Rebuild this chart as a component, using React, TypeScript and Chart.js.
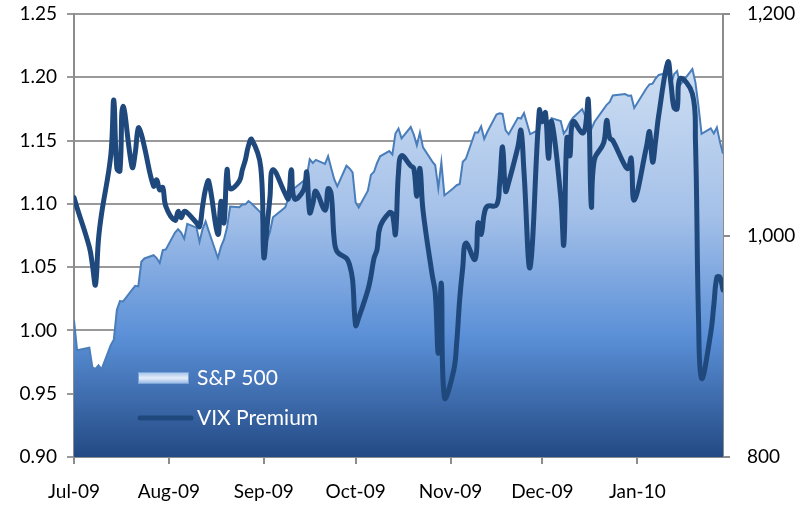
import React, { useEffect, useRef } from 'react';
import { Chart, registerables } from 'chart.js';

Chart.register(...registerables);

// ---------- data ----------
const tradingDates: string[] = [
  // Jul 2009
  '2009-07-01','2009-07-02','2009-07-06','2009-07-07','2009-07-08','2009-07-09','2009-07-10','2009-07-13','2009-07-14','2009-07-15','2009-07-16','2009-07-17','2009-07-20','2009-07-21','2009-07-22','2009-07-23','2009-07-24','2009-07-27','2009-07-28','2009-07-29','2009-07-30','2009-07-31',
  // Aug 2009
  '2009-08-03','2009-08-04','2009-08-05','2009-08-06','2009-08-07','2009-08-10','2009-08-11','2009-08-12','2009-08-13','2009-08-14','2009-08-17','2009-08-18','2009-08-19','2009-08-20','2009-08-21','2009-08-24','2009-08-25','2009-08-26','2009-08-27','2009-08-28','2009-08-31',
  // Sep 2009
  '2009-09-01','2009-09-02','2009-09-03','2009-09-04','2009-09-08','2009-09-09','2009-09-10','2009-09-11','2009-09-14','2009-09-15','2009-09-16','2009-09-17','2009-09-18','2009-09-21','2009-09-22','2009-09-23','2009-09-24','2009-09-25','2009-09-28','2009-09-29','2009-09-30',
  // Oct 2009
  '2009-10-01','2009-10-02','2009-10-05','2009-10-06','2009-10-07','2009-10-08','2009-10-09','2009-10-12','2009-10-13','2009-10-14','2009-10-15','2009-10-16','2009-10-19','2009-10-20','2009-10-21','2009-10-22','2009-10-23','2009-10-26','2009-10-27','2009-10-28','2009-10-29','2009-10-30',
  // Nov 2009
  '2009-11-02','2009-11-03','2009-11-04','2009-11-05','2009-11-06','2009-11-09','2009-11-10','2009-11-11','2009-11-12','2009-11-13','2009-11-16','2009-11-17','2009-11-18','2009-11-19','2009-11-20','2009-11-23','2009-11-24','2009-11-25','2009-11-27','2009-11-30',
  // Dec 2009
  '2009-12-01','2009-12-02','2009-12-03','2009-12-04','2009-12-07','2009-12-08','2009-12-09','2009-12-10','2009-12-11','2009-12-14','2009-12-15','2009-12-16','2009-12-17','2009-12-18','2009-12-21','2009-12-22','2009-12-23','2009-12-24','2009-12-28','2009-12-29','2009-12-30','2009-12-31',
  // Jan 2010
  '2010-01-04','2010-01-05','2010-01-06','2010-01-07','2010-01-08','2010-01-11','2010-01-12','2010-01-13','2010-01-14','2010-01-15','2010-01-19','2010-01-20','2010-01-21','2010-01-22','2010-01-25','2010-01-26','2010-01-27','2010-01-28','2010-01-29',
];

const sp500: number[] = [
  923.33, 896.42, 898.72, 881.03, 879.56, 882.68, 879.13, 901.05, 905.84, 932.68, 940.74, 940.38, 951.13, 954.58, 954.07, 976.29, 979.26, 982.18, 979.62, 975.15, 986.75, 987.48,
  1002.63, 1005.65, 1002.72, 997.08, 1010.48, 1007.10, 994.35, 1005.81, 1012.73, 1004.09, 979.73, 989.67, 996.46, 1007.37, 1026.13, 1025.57, 1028.00, 1028.12, 1030.98, 1028.93, 1020.62,
  998.04, 994.75, 1003.24, 1016.40, 1025.39, 1033.37, 1044.14, 1042.73, 1049.34, 1052.63, 1068.76, 1065.49, 1068.30, 1064.66, 1071.66, 1060.87, 1050.78, 1044.38, 1062.98, 1060.61, 1057.08,
  1029.85, 1025.21, 1040.46, 1054.72, 1057.58, 1065.48, 1071.49, 1076.19, 1073.19, 1092.02, 1096.56, 1087.68, 1097.91, 1091.06, 1081.40, 1092.91, 1079.60, 1066.95, 1063.41, 1042.63, 1066.11, 1036.19,
  1042.88, 1045.41, 1046.50, 1066.63, 1069.30, 1093.08, 1093.01, 1098.51, 1087.24, 1093.48, 1109.30, 1110.32, 1109.80, 1094.90, 1091.38, 1106.24, 1105.65, 1110.63, 1091.49, 1095.63,
  1108.86, 1109.24, 1099.92, 1105.98, 1103.25, 1091.94, 1095.95, 1102.35, 1106.41, 1114.11, 1107.93, 1109.18, 1096.08, 1102.47, 1114.05, 1118.02, 1120.59, 1126.48, 1127.78, 1126.20, 1126.42, 1115.10,
  1132.99, 1136.52, 1137.14, 1141.69, 1144.98, 1146.98, 1136.22, 1145.68, 1148.46, 1136.03, 1150.23, 1138.04, 1116.48, 1091.76, 1096.78, 1092.17, 1097.50, 1084.53, 1073.87,
];

const vixPremium: number[] = [
  1.105, 1.097, 1.066, 1.052, 1.036, 1.072, 1.092, 1.138, 1.182, 1.128, 1.126, 1.177, 1.129, 1.140, 1.160, 1.155, 1.145, 1.114, 1.119, 1.111, 1.113, 1.098,
  1.087, 1.094, 1.089, 1.094, 1.093, 1.085, 1.082, 1.098, 1.112, 1.118, 1.076, 1.102, 1.085, 1.127, 1.112, 1.118, 1.127, 1.135, 1.146, 1.151, 1.129,
  1.058, 1.080, 1.105, 1.127, 1.108, 1.104, 1.127, 1.104, 1.111, 1.125, 1.093, 1.100, 1.110, 1.095, 1.112, 1.108, 1.072, 1.062, 1.057, 1.052, 1.040,
  1.004, 1.010, 1.032, 1.043, 1.057, 1.064, 1.082, 1.093, 1.092, 1.076, 1.125, 1.138, 1.130, 1.128, 1.106, 1.128, 1.095, 1.044, 1.030, 0.982, 1.037, 0.947,
  0.968, 0.990, 1.025, 1.050, 1.069, 1.056, 1.085, 1.076, 1.092, 1.098, 1.099, 1.115, 1.145, 1.110, 1.117, 1.145, 1.158, 1.125, 1.050, 1.174,
  1.165, 1.172, 1.136, 1.165, 1.105, 1.068, 1.152, 1.138, 1.165, 1.156, 1.160, 1.182, 1.098, 1.135, 1.148, 1.166, 1.152, 1.150, 1.130, 1.128, 1.136, 1.103,
  1.145, 1.157, 1.133, 1.150, 1.170, 1.212, 1.195, 1.176, 1.175, 1.199, 1.187, 1.150, 1.010, 0.962, 0.998, 1.020, 1.042, 1.042, 1.032,
];

const monthTickDates: string[] = ['2009-07-01', '2009-08-01', '2009-09-01', '2009-10-01', '2009-11-01', '2009-12-01', '2010-01-01'];
const monthTickLabels: string[] = ['Jul-09', 'Aug-09', 'Sep-09', 'Oct-09', 'Nov-09', 'Dec-09', 'Jan-10'];
const leftTicks: number[] = [0.9, 0.95, 1.0, 1.05, 1.1, 1.15, 1.2, 1.25];
const rightTicks: number[] = [800, 1000, 1200];

const SP_LABEL = 'S&P 500';
const VIX_LABEL = 'VIX Premium';

// ---------- helpers ----------
const DAY_MS = 86400000;
const T0 = Date.UTC(2009, 6, 1);
function dayIndex(s: string): number {
  const [y, m, d] = s.split('-').map(Number);
  return Math.round((Date.UTC(y, m - 1, d) - T0) / DAY_MS);
}

const FONT = 'Lato, "Open Sans", sans-serif';
const AXIS_GRAY = '#8c8c8c';

function areaGradient(ctx: CanvasRenderingContext2D, top: number, bottom: number) {
  const g = ctx.createLinearGradient(0, top, 0, bottom);
  g.addColorStop(0, '#d8e5f6');
  g.addColorStop(0.15, '#c9dbf1');
  g.addColorStop(0.45, '#a5c1e9');
  g.addColorStop(0.73, '#5a8fd7');
  g.addColorStop(1, '#234a84');
  return g;
}

const insideLegend = {
  id: 'insideLegend',
  afterDatasetsDraw(chart: any) {
    const { ctx, chartArea } = chart;
    const x0 = chartArea.left + 64;
    const sw = 51;
    const y1 = chartArea.bottom - 79;
    const y2 = chartArea.bottom - 39;
    const tx = chartArea.left + 123;
    ctx.save();
    // S&P swatch
    const g = ctx.createLinearGradient(0, y1 - 6, 0, y1 + 6);
    g.addColorStop(0, '#9fbfe8');
    g.addColorStop(0.5, '#e6eefa');
    g.addColorStop(1, '#8fb2e2');
    ctx.fillStyle = g;
    ctx.fillRect(x0, y1 - 6, sw, 12);
    ctx.strokeStyle = '#7aa3d8';
    ctx.lineWidth = 1;
    ctx.strokeRect(x0 + 0.5, y1 - 5.5, sw - 1, 11);
    // VIX swatch
    ctx.strokeStyle = '#1f497d';
    ctx.lineWidth = 5;
    ctx.lineCap = 'round';
    ctx.beginPath();
    ctx.moveTo(x0 + 2, y2);
    ctx.lineTo(x0 + sw + 2, y2);
    ctx.stroke();
    // labels
    ctx.fillStyle = '#ffffff';
    ctx.font = '21px ' + FONT;
    ctx.textBaseline = 'middle';
    ctx.textAlign = 'left';
    ctx.fillText(SP_LABEL, tx, y1);
    ctx.fillText(VIX_LABEL, tx, y2);
    ctx.restore();
  },
};

export default function App() {
  const canvasRef = useRef<HTMLCanvasElement | null>(null);

  useEffect(() => {
    if (!canvasRef.current) return;
    const xMin = dayIndex(tradingDates[0]);
    const xMax = dayIndex(tradingDates[tradingDates.length - 1]);
    const tickFont = { family: FONT, size: 19 };

    const chart = new Chart(canvasRef.current, {
      type: 'line',
      data: {
        datasets: [
          {
            label: VIX_LABEL,
            data: tradingDates.map((d, i) => ({ x: dayIndex(d), y: vixPremium[i] })),
            yAxisID: 'y',
            borderColor: '#1f497d',
            borderWidth: 5,
            borderCapStyle: 'round',
            borderJoinStyle: 'round',
            pointRadius: 0,
            tension: 0.4,
            fill: false,
            order: 0,
          },
          {
            label: SP_LABEL,
            data: tradingDates.map((d, i) => ({ x: dayIndex(d), y: sp500[i] })),
            yAxisID: 'y2',
            borderColor: '#4a7ebb',
            borderWidth: 2,
            pointRadius: 0,
            tension: 0,
            fill: 'start',
            backgroundColor: (c: any) => {
              const area = c.chart.chartArea;
              if (!area) return '#5a8fd7';
              return areaGradient(c.chart.ctx, area.top, area.bottom);
            },
            order: 1,
          },
        ],
      },
      options: {
        responsive: false,
        maintainAspectRatio: false,
        animation: false,
        devicePixelRatio: 1,
        layout: { autoPadding: false, padding: { top: 14, left: 0, right: 0, bottom: 0 } },
        plugins: {
          legend: { display: false },
          tooltip: { enabled: false },
        },
        scales: {
          x: {
            type: 'linear',
            min: xMin,
            max: xMax,
            afterBuildTicks: (s: any) => {
              s.ticks = monthTickDates.map((d) => ({ value: dayIndex(d) }));
            },
            afterFit: (s: any) => {
              s.height = 48;
              s.paddingLeft = 0;
              s.paddingRight = 0;
            },
            ticks: {
              autoSkip: false,
              maxRotation: 0,
              minRotation: 0,
              padding: 16,
              color: '#000',
              font: tickFont,
              callback: (_v: any, i: number) => monthTickLabels[i],
            },
            grid: { drawOnChartArea: false, drawTicks: true, tickLength: 7, color: AXIS_GRAY, lineWidth: 2 },
            border: { color: AXIS_GRAY, width: 2 },
          },
          y: {
            position: 'left',
            min: leftTicks[0],
            max: leftTicks[leftTicks.length - 1],
            afterBuildTicks: (s: any) => {
              s.ticks = leftTicks.map((v) => ({ value: v }));
            },
            afterFit: (s: any) => {
              s.width = 74;
              s.paddingTop = 0;
              s.paddingBottom = 0;
            },
            ticks: {
              padding: 10,
              color: '#000',
              font: tickFont,
              callback: (v: any) => Number(v).toFixed(2),
            },
            grid: { color: '#999999', lineWidth: 2, drawTicks: true, tickLength: 7 },
            border: { color: AXIS_GRAY, width: 2 },
          },
          y2: {
            position: 'right',
            min: rightTicks[0],
            max: rightTicks[rightTicks.length - 1],
            afterBuildTicks: (s: any) => {
              s.ticks = rightTicks.map((v) => ({ value: v }));
            },
            afterFit: (s: any) => {
              s.width = 78;
              s.paddingTop = 0;
              s.paddingBottom = 0;
            },
            ticks: {
              padding: 17,
              color: '#000',
              font: tickFont,
              callback: (v: any) => Number(v).toLocaleString('en-US'),
            },
            grid: { drawOnChartArea: false, drawTicks: true, tickLength: 7, color: AXIS_GRAY, lineWidth: 2 },
            border: { color: AXIS_GRAY, width: 2 },
          },
        },
      },
      plugins: [insideLegend],
    } as any);

    return () => chart.destroy();
  }, []);

  return (
    <div style={{ position: 'absolute', left: 0, top: 0, width: 801, height: 505, background: '#fff' }}>
      <canvas ref={canvasRef} width={801} height={505} style={{ display: 'block', width: 801, height: 505 }} />
    </div>
  );
}
